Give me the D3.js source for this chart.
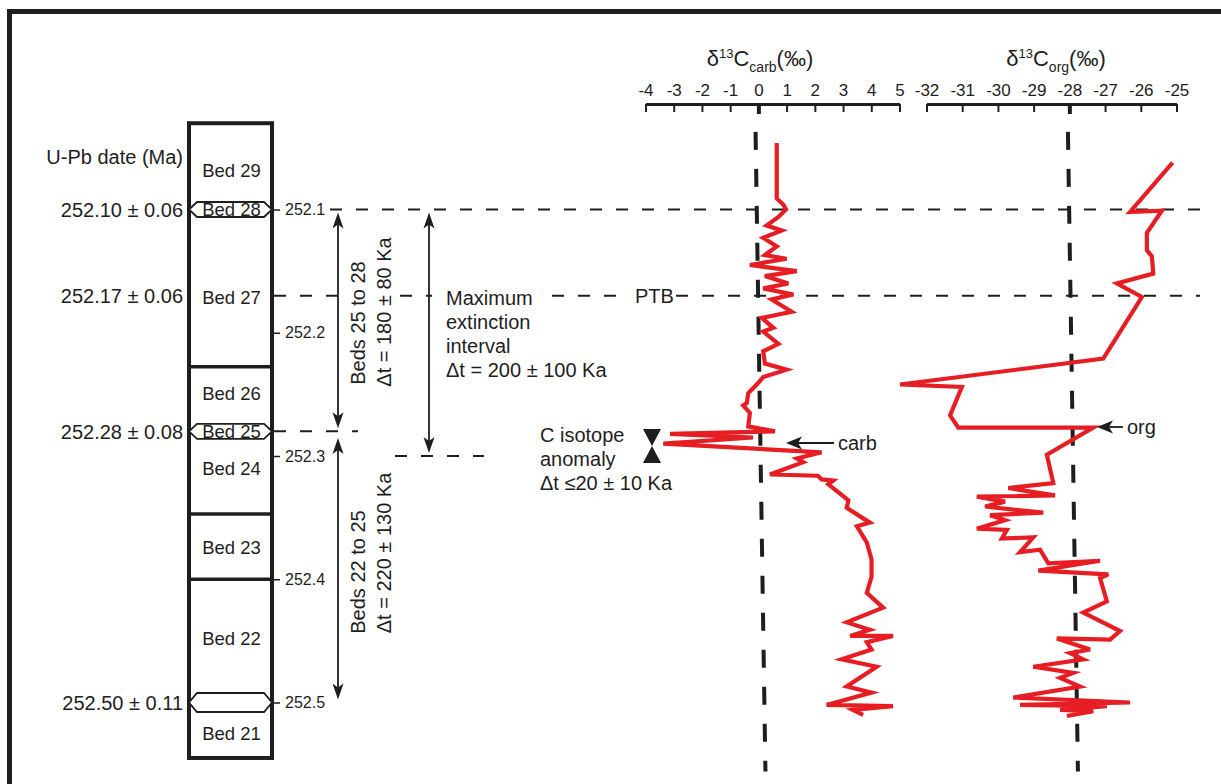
<!DOCTYPE html>
<html>
<head>
<meta charset="utf-8">
<script src="https://cdn.jsdelivr.net/npm/d3@7"></script>
<style>
  body { margin: 0; background: #fff; }
  text { font-family: "Liberation Sans", Arial, sans-serif; fill: #1e1e1e; }
</style>
</head>
<body>
<div id="chart"></div>
<script>
// ---- data ----
const carbTicks = [-4, -3, -2, -1, 0, 1, 2, 3, 4, 5];
const orgTicks = [-32, -31, -30, -29, -28, -27, -26, -25];
const ageTicks = [252.1, 252.2, 252.3, 252.4, 252.5];

const carbAge = [252.046, 252.091, 252.096, 252.100, 252.106, 252.113, 252.117, 252.123, 252.130, 252.137,
  252.140, 252.145, 252.150, 252.154, 252.160, 252.164, 252.169, 252.173, 252.183, 252.188,
  252.196, 252.199, 252.209, 252.215, 252.225, 252.230, 252.236, 252.242, 252.249, 252.257,
  252.259, 252.265, 252.276, 252.280, 252.282, 252.285, 252.290, 252.297, 252.302, 252.305,
  252.315, 252.316, 252.319, 252.320, 252.323, 252.336, 252.342, 252.350, 252.354, 252.357,
  252.370, 252.384, 252.398, 252.411, 252.423, 252.435, 252.441, 252.446, 252.446, 252.451,
  252.457, 252.465, 252.471, 252.487, 252.492, 252.502, 252.503, 252.506, 252.510];
const carbVal = [0.65, 0.65, 0.88, 0.98, 0.71, 0.29, 0.83, 0.17, 0.65, 0.23,
  1.00, -0.30, 1.36, 0.23, 1.06, 0.17, 1.24, 0.47, 1.18, 0.12,
  0.53, 0.17, 0.71, 0.17, 0.23, 1.00, 0.17, -0.06, -0.36, -0.41,
  -0.54, -0.30, -0.36, 0.59, -3.13, -0.19, -3.37, 2.24, 1.36, 1.59,
  0.41, 2.11, 2.24, 2.65, 2.48, 3.19, 3.13, 3.67, 3.95, 3.49,
  3.84, 4.01, 4.01, 3.84, 4.42, 3.13, 3.95, 3.25, 4.77, 3.84,
  4.01, 2.95, 4.19, 3.13, 4.01, 2.42, 4.77, 3.35, 3.71];

const orgAge = [252.062, 252.102, 252.101, 252.119, 252.133, 252.138, 252.152, 252.160, 252.171, 252.221,
  252.242, 252.244, 252.267, 252.277, 252.277, 252.299, 252.322, 252.326, 252.332, 252.333,
  252.337, 252.341, 252.346, 252.348, 252.352, 252.359, 252.360, 252.367, 252.366, 252.378,
  252.376, 252.387, 252.385, 252.393, 252.396, 252.399, 252.418, 252.427, 252.442, 252.449,
  252.448, 252.457, 252.460, 252.465, 252.471, 252.476, 252.480, 252.487, 252.496, 252.500,
  252.502, 252.503, 252.506, 252.507, 252.511];
const orgVal = [-25.11, -26.30, -25.41, -25.83, -25.83, -25.69, -25.65, -26.67, -25.97, -27.05,
  -32.74, -31.01, -31.34, -31.11, -27.33, -28.63, -28.45, -29.71, -28.40, -30.59,
  -29.80, -30.36, -28.73, -30.22, -29.80, -30.59, -29.75, -29.89, -29.01, -29.38,
  -28.82, -28.59, -27.14, -28.87, -26.91, -27.14, -26.95, -27.61, -26.58, -26.86,
  -28.35, -27.42, -27.98, -27.61, -29.01, -27.89, -28.26, -27.70, -29.57, -26.30,
  -29.38, -26.95, -28.26, -27.33, -28.07];

const bedNames = ["Bed 29", "Bed 28", "Bed 27", "Bed 26", "Bed 25", "Bed 24", "Bed 23", "Bed 22", "Bed 21"];
const bedMid = [252.068, 252.10, 252.171, 252.249, 252.28, 252.31, 252.374, 252.448, 252.525];
const bedLines = [252.2275, 252.347, 252.4];      // thick bed boundaries
const columnAge = [252.030, 252.545];              // top / bottom of the section
const ashAge = [252.10, 252.28, 252.50];           // dated ash layers (hexagons)

const dateAge = [252.10, 252.17, 252.28, 252.50];
const dateLabel = ["252.10 \u00b1 0.06", "252.17 \u00b1 0.06", "252.28 \u00b1 0.08", "252.50 \u00b1 0.11"];

const ptbAge = 252.17;
const refAge = [252.037, 252.556];                 // extent of the dashed reference lines
const carbRef = [-0.1, 0.25];
const orgRef = [-28.04, -27.76];

// ---- setup ----
const W = 1221, H = 784;
const svg = d3.select("#chart").append("svg")
  .attr("width", W).attr("height", H)
  .style("display", "block");

svg.append("rect").attr("width", W).attr("height", H).attr("fill", "#fff");
// frame
svg.append("path").attr("d", "M9.5,784V11.5H1221").attr("fill", "none")
  .attr("stroke", "#1e1e1e").attr("stroke-width", 5);

const y = d3.scaleLinear().domain([252.1, 252.5]).range([209.5, 702.5]);
const xCarb = d3.scaleLinear().domain([-4, 5]).range([645.5, 899.5]);
const xOrg = d3.scaleLinear().domain([-32, -25]).range([926.5, 1176.5]);
const ink = "#1e1e1e";

// ---- isotope axes ----
function topAxis(scale, ticks, zero) {
  const g = svg.append("g").attr("transform", "translate(0,104)")
    .call(d3.axisTop(scale).tickValues(ticks).tickSizeInner(-8).tickSizeOuter(0).tickPadding(8)
      .tickFormat(d3.format("d")));
  g.select(".domain").attr("stroke", ink).attr("stroke-width", 3);
  g.selectAll(".tick line").attr("stroke", ink).attr("stroke-width", 2)
    .filter(d => d === zero).attr("stroke-width", 4).attr("y2", 10);
  g.selectAll(".tick text").attr("font-size", 17).attr("fill", ink)
    .attr("font-family", "Liberation Sans, Arial, sans-serif").text(d => String(d));
  return g;
}
topAxis(xCarb, carbTicks, 0);
topAxis(xOrg, orgTicks, -28);

function title(cx, sub) {
  const t = svg.append("text").attr("x", cx).attr("y", 66).attr("text-anchor", "middle").attr("font-size", 22);
  t.append("tspan").text("\u03b4");
  t.append("tspan").attr("font-size", 13).attr("dy", -8).text("13");
  t.append("tspan").attr("dy", 8).text("C");
  t.append("tspan").attr("font-size", 14).attr("dy", 6).text(sub);
  t.append("tspan").attr("dy", -6).text("(\u2030)");
}
title(760, "carb");
title(1056, "org");

// dashed reference lines (0 and -28 permil)
const refLine = d3.line().x(d => d[0]).y(d => d[1]);
svg.append("path")
  .attr("d", refLine(refAge.map((a, i) => [xCarb(carbRef[i]), y(a)])))
  .attr("stroke", ink).attr("stroke-width", 4).attr("stroke-dasharray", "18,19").attr("fill", "none");
svg.append("path")
  .attr("d", refLine(refAge.map((a, i) => [xOrg(orgRef[i]), y(a)])))
  .attr("stroke", ink).attr("stroke-width", 4).attr("stroke-dasharray", "18,19").attr("fill", "none");

// ---- horizontal dashed correlation lines ----
const hDash = [
  { age: 252.10, x0: 330, x1: 1200 },
  { age: ptbAge, x0: 274, x1: 347 },
  { age: ptbAge, x0: 400, x1: 432 },
  { age: ptbAge, x0: 552, x1: 630 },
  { age: ptbAge, x0: 676, x1: 1200 },
  { age: 252.28, x0: 274, x1: 358 },
  { age: 252.30, x0: 395, x1: 484 }
];
svg.append("g").selectAll("line").data(hDash).join("line")
  .attr("x1", d => d.x0).attr("x2", d => d.x1)
  .attr("y1", d => y(d.age)).attr("y2", d => y(d.age))
  .attr("stroke", ink).attr("stroke-width", 2).attr("stroke-dasharray", "12,14");

// ---- stratigraphic column ----
const colX0 = 189, colX1 = 272;
svg.append("rect")
  .attr("x", colX0).attr("y", y(columnAge[0]))
  .attr("width", colX1 - colX0).attr("height", y(columnAge[1]) - y(columnAge[0]))
  .attr("fill", "#fff").attr("stroke", ink).attr("stroke-width", 4);
svg.append("g").selectAll("line").data(bedLines).join("line")
  .attr("x1", colX0).attr("x2", colX1).attr("y1", d => y(d)).attr("y2", d => y(d))
  .attr("stroke", ink).attr("stroke-width", 3.5);

svg.append("g").selectAll("path").data(ashAge).join("path")
  .attr("d", d => {
    const c = y(d), h = d === 252.50 ? 9.5 : 7.5;
    return `M${colX0},${c}L${colX0 + 8},${c - h}H${colX1 - 8}L${colX1},${c}L${colX1 - 8},${c + h}H${colX0 + 8}Z`;
  })
  .attr("fill", "#fff").attr("stroke", ink).attr("stroke-width", 1.8);

svg.append("g").selectAll("text").data(bedNames).join("text")
  .attr("x", (colX0 + colX1) / 2 + 1).attr("y", (d, i) => y(bedMid[i]))
  .attr("dy", "0.36em").attr("text-anchor", "middle").attr("font-size", 18.5)
  .text(d => d);

// age axis to the right of the column
const ageAxis = svg.append("g").attr("transform", `translate(${colX1},0)`)
  .call(d3.axisRight(y).tickValues(ageTicks).tickSize(8).tickPadding(5).tickFormat(d3.format(".1f")));
ageAxis.select(".domain").remove();
ageAxis.selectAll(".tick line").attr("stroke", ink).attr("stroke-width", 1.5);
ageAxis.selectAll(".tick text").attr("font-size", 16).attr("fill", "#333")
  .attr("font-family", "Liberation Sans, Arial, sans-serif");

// U-Pb dates
svg.append("text").attr("x", 183).attr("y", 164).attr("text-anchor", "end").attr("font-size", 20)
  .text("U-Pb date (Ma)");
svg.append("g").selectAll("text").data(dateAge).join("text")
  .attr("x", 183).attr("y", d => y(d)).attr("dy", "0.36em").attr("text-anchor", "end")
  .attr("font-size", 20).text((d, i) => dateLabel[i]);

// ---- interval arrows ----
function vArrow(x, a0, a1) {
  const t = y(a0) + 3, b = y(a1) - 3;
  const g = svg.append("g");
  g.append("line").attr("x1", x).attr("x2", x).attr("y1", t + 6).attr("y2", b - 6)
    .attr("stroke", ink).attr("stroke-width", 1.8);
  g.append("path").attr("d", `M${x},${t}L${x + 5.5},${t + 16}L${x},${t + 12}L${x - 5.5},${t + 16}Z`).attr("fill", ink);
  g.append("path").attr("d", `M${x},${b}L${x + 5.5},${b - 16}L${x},${b - 12}L${x - 5.5},${b - 16}Z`).attr("fill", ink);
}
vArrow(338, 252.10, 252.28);
vArrow(338, 252.283, 252.50);
vArrow(429, 252.10, 252.30);

// rotated labels: [baseline x, centre y, text]
const rotText = [
  [365, 323, "Beds 25 to 28"],
  [391, 312, "\u0394t = 180 \u00b1 80 Ka"],
  [365, 572, "Beds 22 to 25"],
  [391, 553, "\u0394t = 220 \u00b1 130 Ka"]
];
svg.append("g").selectAll("text").data(rotText).join("text")
  .attr("transform", d => `translate(${d[0]},${d[1]}) rotate(-90)`)
  .attr("text-anchor", "middle").attr("font-size", 20).text(d => d[2]);

function block(x, y0, lines) {
  lines.forEach((s, i) => svg.append("text").attr("x", x).attr("y", y0 + i * 24)
    .attr("font-size", 20).text(s));
}
block(446, 305, ["Maximum", "extinction", "interval", "\u0394t = 200 \u00b1 100 Ka"]);
block(540, 442, ["C isotope", "anomaly", "\u0394t \u226420 \u00b1 10 Ka"]);

svg.append("text").attr("x", 635).attr("y", y(ptbAge)).attr("dy", "0.36em").attr("font-size", 20).text("PTB");

// hourglass marking the duration of the anomaly
svg.append("path")
  .attr("d", "M643,429H661L652,446ZM643,463H661L652,446Z")
  .attr("fill", ink);

// ---- isotope curves ----
const carbLine = d3.line().x((d, i) => xCarb(carbVal[i])).y(d => y(d));
const orgLine = d3.line().x((d, i) => xOrg(orgVal[i])).y(d => y(d));
svg.append("path").attr("d", carbLine(carbAge))
  .attr("fill", "none").attr("stroke", "#e61e24").attr("stroke-width", 4.2).attr("stroke-linejoin", "miter");
svg.append("path").attr("d", orgLine(orgAge))
  .attr("fill", "none").attr("stroke", "#e61e24").attr("stroke-width", 4.2).attr("stroke-linejoin", "miter");

// carb / org pointers
function pointer(xTip, yy, len, label) {
  svg.append("line").attr("x1", xTip + 8).attr("x2", xTip + len).attr("y1", yy).attr("y2", yy)
    .attr("stroke", ink).attr("stroke-width", 1.8);
  svg.append("path").attr("d", `M${xTip},${yy}L${xTip + 16},${yy - 6.5}L${xTip + 12},${yy}L${xTip + 16},${yy + 6.5}Z`)
    .attr("fill", ink);
  svg.append("text").attr("x", xTip + len + 4).attr("y", yy).attr("dy", "0.33em").attr("font-size", 20).text(label);
}
pointer(786, 443, 48, "carb");
pointer(1097, 427, 26, "org");
</script>
</body>
</html>
